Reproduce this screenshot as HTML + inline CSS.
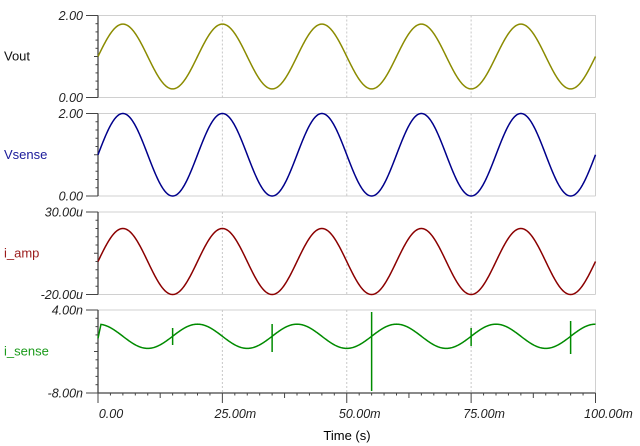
<!DOCTYPE html>
<html><head><meta charset="utf-8"><style>
html,body{margin:0;padding:0;background:#fff;width:640px;height:446px;overflow:hidden}
svg{display:block}
text{font-family:"Liberation Sans",sans-serif}
.tl{font-style:italic;font-size:12.5px;fill:#222}
.nm{font-size:13px;fill:#000}
</style></head><body>
<svg id="s" width="640" height="446" xmlns="http://www.w3.org/2000/svg"></svg>
<script>
const s=document.getElementById('s');
const X0=98,X1=595.5;
const panels=[
 {t:15.5,b:97.5,top:"2.00",bot:"0.00",name:"Vout",nc:"#111",col:"#8b8b00",f:t=>1+0.79*Math.sin(2*Math.PI*t/20),lo:0,hi:2},
 {t:113.5,b:196,top:"2.00",bot:"0.00",name:"Vsense",nc:"#1a1a9a",col:"#00008b",f:t=>1+1*Math.sin(2*Math.PI*t/20),lo:0,hi:2},
 {t:212,b:294.5,top:"30.00u",bot:"-20.00u",name:"i_amp",nc:"#9a1a1a",col:"#8b0000",f:t=>20*Math.sin(2*Math.PI*t/20),lo:-20,hi:30},
 {t:310,b:393,top:"4.00n",bot:"-8.00n",name:"i_sense",nc:"#1a9a1a",col:"#008b00",f:t=>t<0.6?(-0.1+ (1.95+0.1)*t/0.6):0.2+1.75*Math.cos(2*Math.PI*t/20),lo:-8,hi:4}
];
let h='';
const xs=t=>X0+(X1-X0)*t/100;
panels.forEach((p,i)=>{
 h+=`<path d="M${X0} ${p.t}H${X1}V${p.b}" fill="none" stroke="#d0d0d0" stroke-width="1"/>`;
 if(i<3) h+=`<line x1="${X0}" y1="${p.b}" x2="${X1}" y2="${p.b}" stroke="#d0d0d0"/>`;
 [25,50,75].forEach(v=>{h+=`<line x1="${xs(v)}" y1="${p.t}" x2="${xs(v)}" y2="${p.b}" stroke="#c8c8c8" stroke-dasharray="2,2"/>`});
 h+=`<line x1="${X0}" y1="${p.t}" x2="${X0}" y2="${p.b}" stroke="#444" stroke-width="1.3"/>`;
 for(let k=0;k<=10;k++){const y=p.t+(p.b-p.t)*k/10;let l=(k==0||k==10)?12:(k==5?4:2.5);h+=`<line x1="${X0-l}" y1="${y}" x2="${X0}" y2="${y}" stroke="#444"/>`;}
 h+=`<text class="tl" x="83" y="${p.t+4.5}" text-anchor="end">${p.top}</text>`;
 h+=`<text class="tl" x="83" y="${p.b+4.5}" text-anchor="end">${p.bot}</text>`;
 h+=`<text class="nm" x="4" y="${(p.t+p.b)/2+4}" style="fill:${p.nc}">${p.name}</text>`;
 let d='';
 for(let k=0;k<=1000;k++){const t=k/10;const v=p.f(t);const y=p.b-(v-p.lo)/(p.hi-p.lo)*(p.b-p.t);d+=(k?'L':'M')+xs(t).toFixed(2)+' '+y.toFixed(2);}
 h+=`<path d="${d}" fill="none" stroke="${p.col}" stroke-width="1.5"/>`;
});
[[15,328,345],[35,324,352],[55,312,391],[75,328,346],[95,321,354]].forEach(a=>{h+=`<line x1="${xs(a[0])}" y1="${a[1]}" x2="${xs(a[0])}" y2="${a[2]}" stroke="#008b00" stroke-width="1.5"/>`});
h+=`<line x1="${X0}" y1="393" x2="${X1}" y2="393" stroke="#444" stroke-width="1.3"/>`;
for(let k=0;k<=40;k++){const x=xs(k*2.5);let l=k%10==0?10:(k%5==0?5:2.5);h+=`<line x1="${x}" y1="393" x2="${x}" y2="${393+l}" stroke="#444"/>`;}
[["0.00",0],["25.00m",25],["50.00m",50],["75.00m",75],["100.00m",100]].forEach(a=>{h+=`<text class="tl" x="${xs(a[1])+13}" y="418" text-anchor="middle">${a[0]}</text>`});
h+=`<text class="nm" x="347" y="440" text-anchor="middle">Time (s)</text>`;
s.innerHTML=h;
</script>
</body></html>
